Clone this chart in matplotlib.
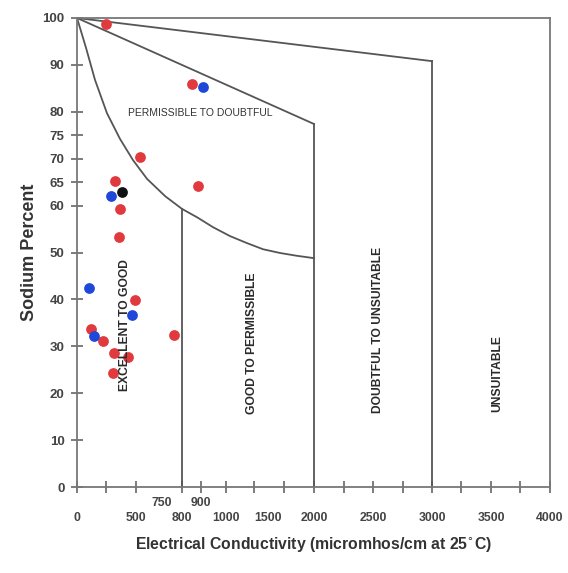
import numpy as np
import matplotlib
matplotlib.use("Agg")
import matplotlib.pyplot as plt

plt.rcParams['font.family'] = ['Liberation Sans', 'DejaVu Sans']

# sample points (EC in micromhos/cm, sodium percent)
red_ec = [250, 853, 538, 325, 367, 884, 358, 492, 121, 224, 317, 433, 308, 780]
red_na = [98.7, 85.9, 70.4, 65.2, 59.3, 64.2, 53.3, 39.9, 33.7, 31.1, 28.6, 27.7, 24.3, 32.4]
blue_ec = [908, 292, 103, 467, 147]
blue_na = [85.3, 62.1, 42.4, 36.7, 32.2]
black_ec = [383]
black_na = [62.9]

# class boundaries
curve_ec = [0, 78, 155, 258, 367, 475, 606, 758, 800, 884, 948, 1036, 1188,
            1411, 1688, 1858, 2000]
curve_na = [100, 93.6, 86.8, 79.7, 74.2, 69.7, 65.7, 62.0, 59.3, 57.4, 55.4,
            53.5, 52.0, 50.7, 49.9, 49.3, 48.8]
upper_ec = [0, 3000]
upper_na = [100, 90.8]
middle_ec = [0, 2000]
middle_na = [100, 77.4]
limit_800 = 59.3

# the template's x axis is stretched unevenly
ec_knots = [0, 250, 500, 750, 800, 900, 1000, 1250, 1500, 1750, 2000, 4000]
pos_knots = [0, 29, 59, 85, 105, 124, 149, 177, 191, 207, 237, 473]

def fwd(x):
    return np.interp(x, ec_knots, pos_knots)

def inv(x):
    return np.interp(x, pos_knots, ec_knots)

xticks = [0, 250, 500, 750, 800, 900, 1000, 1250, 1500, 1750, 2000, 2250, 2500,
          2750, 3000, 3250, 3500, 3750, 4000]
xlabels = ['0', '', '500', '750', '800', '900', '1000', '', '1500', '', '2000', '',
           '2500', '', '3000', '', '3500', '', '4000']
yticks = [0, 10, 20, 30, 40, 50, 60, 65, 70, 75, 80, 90, 100]

zones = ['EXCELLENT TO GOOD', 'GOOD TO PERMISSIBLE', 'DOUBTFUL TO UNSUITABLE', 'UNSUITABLE']
zone_ec = [408, 1232, 2542, 3551]
zone_na = [34.5, 30.7, 33.5, 24.3]

fig = plt.figure(figsize=(5.68, 5.73), dpi=100)
ax = fig.add_axes([0.1356, 0.150, 0.8327, 0.8186])
ax.set_xscale('function', functions=(fwd, inv))
ax.set_xlim(0, 4000)
ax.set_ylim(0, 100)

lc = '#555555'
ax.plot(curve_ec, curve_na, color=lc, lw=1.3)
ax.plot(upper_ec, upper_na, color=lc, lw=1.3)
ax.plot(middle_ec, middle_na, color=lc, lw=1.3)
ax.plot([800, 800], [0, limit_800], color=lc, lw=1.3)
ax.plot([2000, 2000], [0, middle_na[1]], color=lc, lw=1.3)
ax.plot([3000, 3000], [0, upper_na[1]], color=lc, lw=1.3)

ax.scatter(red_ec, red_na, s=60, color='#e0393e', zorder=3, linewidths=0)
ax.scatter(blue_ec, blue_na, s=60, color='#1f48d8', zorder=3, linewidths=0)
ax.scatter(black_ec, black_na, s=60, color='#111111', zorder=3, linewidths=0)

ax.text(895, 79.7, 'PERMISSIBLE TO DOUBTFUL', fontsize=7.5, color='#333333',
        ha='center', va='center')
for name, x, y in zip(zones, zone_ec, zone_na):
    ax.text(x, y, name, rotation=90, fontsize=8.7, fontweight='bold',
            color='#2a2a2a', ha='center', va='center')

for s in ax.spines.values():
    s.set_color('#777777')
    s.set_linewidth(1.3)

ax.tick_params(direction='inout', length=8, width=1.2, color='#666666',
               labelcolor='#444444')
ax.set_yticks(yticks)
ax.set_yticklabels([str(v) for v in yticks], fontweight='bold', fontsize=9.5)
ax.tick_params(axis='y', pad=5)
ax.set_xticks(xticks)
ax.set_xticklabels(xlabels, fontweight='bold', fontsize=8.8)
ax.xaxis.set_minor_locator(matplotlib.ticker.NullLocator())
for t, v in zip(ax.xaxis.get_major_ticks(), xticks):
    if v in (750, 900):
        t.set_pad(3)
    else:
        t.set_pad(14)
    if v in (750, 1500):
        t.tick1line.set_visible(False)

ax.set_xlabel('Electrical Conductivity (micromhos/cm at 25$^{\\circ}$C)',
              fontsize=11.3, fontweight='bold', color='#333333', labelpad=8)
ax.set_ylabel('Sodium Percent', fontsize=13, fontweight='bold', color='#333333',
              labelpad=3)

fig.savefig('out.png', dpi=100)
